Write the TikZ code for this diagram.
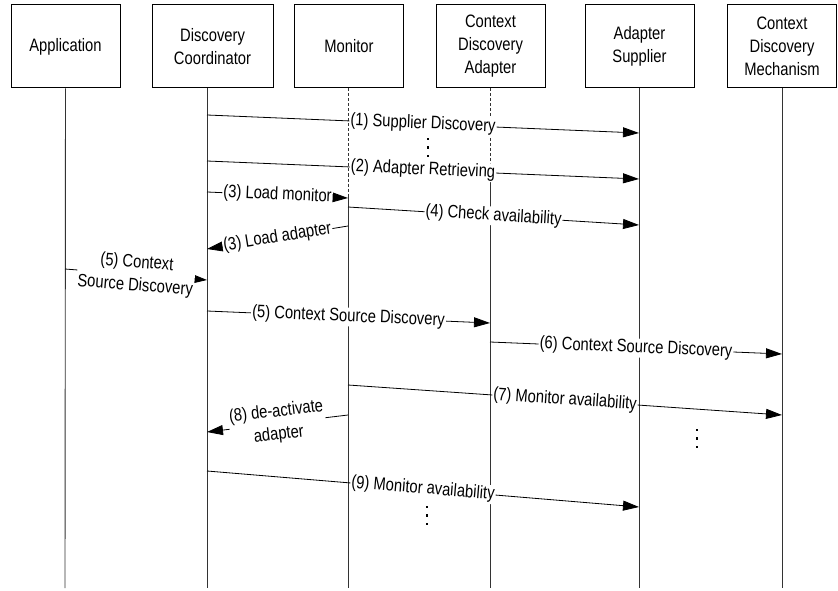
\documentclass[tikz,border=0pt]{standalone}
\usepackage{fontspec}
\setmainfont{Liberation Sans}[FakeStretch=0.82]
\usetikzlibrary{arrows.meta}

% three small dots standing for further messages
\newcommand{\stepdots}[2]{%
  \foreach \k in {0,1,2} {\fill ({#1-1.3},{#2-1.3+\k*8.5}) rectangle ++(2.6,2.6);}}

\begin{document}
\begin{tikzpicture}[x=1pt, y=-1pt,
  every node/.style={font=\fontsize{18}{23}\selectfont},
  actor/.style={rectangle, draw, line width=1pt, align=center,
                minimum width=109pt, minimum height=83pt, inner sep=2pt},
  life/.style={line width=0.9pt, black!80},
  lifedash/.style={life, dash pattern=on 3pt off 2pt},
  msg/.style={-{Triangle[length=16pt,width=10pt]}, line width=0.8pt},
  lbl/.style={sloped, fill=white, inner sep=1pt, align=center}]
  \useasboundingbox (0,0) rectangle (838,591);

  % participants
  \node[actor] (app) at (65.5,46.5) {Application};
  \node[actor, minimum width=121pt] (dc) at (212.5,46.5) {Discovery\\Coordinator};
  \node[actor] (mon) at (349,46.5) {Monitor};
  \node[actor] (cda) at (490.5,46.5) {Context\\Discovery\\Adapter};
  \node[actor] (sup) at (639.5,46.5) {Adapter\\Supplier};
  \node[actor] (cdm) at (782,46.5) {Context\\Discovery\\Mechanism};

  % lifelines
  \coordinate (app-end) at (65,588);
  \coordinate (dc-end) at (207,588);
  \coordinate (mon-on) at (348,195);
  \coordinate (mon-end) at (348,588);
  \coordinate (cda-on) at (490,165);
  \coordinate (cda-end) at (490,588);
  \coordinate (sup-end) at (639.5,588);
  \coordinate (cdm-end) at (782,588);
  \draw[life] (app.south) -- (app-end);
  \draw[life] ([xshift=-5.5pt]dc.south) -- (dc-end);
  \draw[lifedash] ([xshift=-1pt]mon.south) -- (mon-on);
  \draw[life] (mon-on) -- (mon-end);
  \draw[lifedash] ([xshift=-0.5pt]cda.south) -- (cda-on);
  \draw[life] (cda-on) -- (cda-end);
  \draw[life] (sup.south) -- (sup-end);
  \draw[life] (cdm.south) -- (cdm-end);

  % message ends
  \coordinate (m1a) at (207,115);  \coordinate (m1b) at (639,133);
  \coordinate (m2a) at (207,161);  \coordinate (m2b) at (639,179);
  \coordinate (m3a) at (207,192);  \coordinate (m3b) at (348,198);
  \coordinate (m4a) at (348,207);  \coordinate (m4b) at (639,225);
  \coordinate (m3c) at (348,226);  \coordinate (m3d) at (207,249);
  \coordinate (m5a) at (65,269);   \coordinate (m5b) at (207,280);
  \coordinate (m5c) at (207,311);  \coordinate (m5d) at (490,323);
  \coordinate (m6a) at (490,342);  \coordinate (m6b) at (782,354);
  \coordinate (m7a) at (348,385);  \coordinate (m7b) at (782,415);
  \coordinate (m8a) at (348,415);  \coordinate (m8b) at (207,432);
  \coordinate (m9a) at (207,471);  \coordinate (m9b) at (639,507);

  % messages
  \draw[msg] (m1a) -- node[lbl]{(1) Supplier Discovery} (m1b);
  \draw[msg] (m2a) -- node[lbl]{(2) Adapter Retrieving} (m2b);
  \draw[msg] (m3a) -- node[lbl]{(3) Load monitor} (m3b);
  \draw[msg] (m4a) -- node[lbl]{(4) Check availability} (m4b);
  \draw[msg] (m3c) -- node[lbl]{(3) Load adapter} (m3d);
  \draw[msg] (m5a) -- node[lbl]{(5) Context\\Source Discovery} (m5b);
  \draw[msg] (m5c) -- node[lbl]{(5) Context Source Discovery} (m5d);
  \draw[msg] (m6a) -- node[lbl]{(6) Context Source Discovery} (m6b);
  \draw[msg] (m7a) -- node[lbl]{(7) Monitor availability} (m7b);
  \draw[msg] (m8a) -- node[lbl]{(8) de-activate\\adapter} (m8b);
  \draw[msg] (m9a) -- node[lbl]{(9) Monitor availability} (m9b);

  \stepdots{428}{139}
  \stepdots{697}{430}
  \stepdots{427}{507}
\end{tikzpicture}
\end{document}
